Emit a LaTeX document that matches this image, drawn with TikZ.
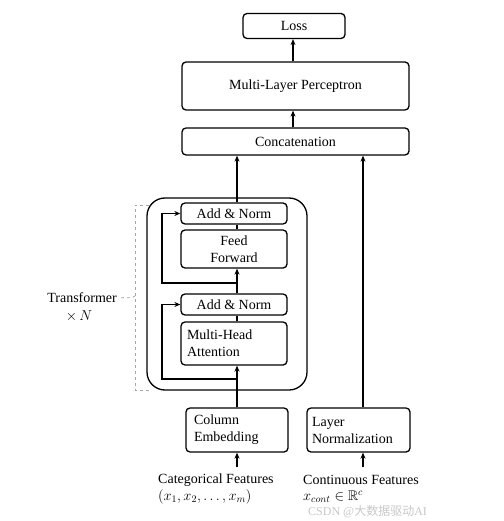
\documentclass[tikz,border=0pt]{standalone}
\usepackage{fontspec}
\usepackage{amsmath,amssymb}
\setmainfont{Liberation Serif}
\newfontfamily\cjkfont{Noto Sans CJK SC}
\usetikzlibrary{arrows.meta}
\begin{document}
\begin{tikzpicture}[x=1pt,y=-1pt,
  every node/.style={font=\fontsize{14}{16}\selectfont},
  blk/.style={draw, line width=1.3pt, rounded corners=4pt, inner sep=0pt, align=center},
  lblk/.style={blk, align=left},
  conn/.style={line width=1.3pt},
  arr/.style={conn, -{Stealth[length=6pt,width=5pt]}},
  brk/.style={draw=gray!70, dashed, line width=0.8pt}]
\useasboundingbox (0,0) rectangle (503,521);
% top
\node[blk, minimum width=102pt, minimum height=25pt] (loss) at (294,26) {Loss};
\node[blk, minimum width=227pt, minimum height=48pt] (mlp) at (295.5,86) {Multi-Layer Perceptron};
\node[blk, minimum width=227pt, minimum height=27pt] (cat) at (295.5,141.5) {Concatenation};
% transformer
\node[draw, line width=1.3pt, rounded corners=18pt, minimum width=160pt, minimum height=192pt] (outer) at (227,294) {};
\node[blk, minimum width=106pt, minimum height=21pt] (an2) at (234,213.5) {Add \& Norm};
\node[blk, minimum width=106pt, minimum height=38pt, font=\fontsize{14}{17}\selectfont] (ff) at (234,249) {Feed\\Forward};
\node[blk, minimum width=106pt, minimum height=21pt] (an1) at (234,304.5) {Add \& Norm};
\node[lblk, minimum height=43pt, text width=94pt, inner xsep=6pt, font=\fontsize{14}{17}\selectfont] (mha) at (234,343.5) {Multi-Head\\Attention};
% inputs
\node[lblk, minimum height=44pt, text width=86pt, inner xsep=8pt, font=\fontsize{14}{17}\selectfont] (ce) at (237,430) {Column\\Embedding};
\node[lblk, minimum height=44pt, text width=93pt, inner xsep=5pt, font=\fontsize{14}{17}\selectfont] (ln) at (358.5,430) {Layer\\Normalization};
\node[anchor=west, inner sep=0pt] (catf) at (158,480) {Categorical Features};
\node[anchor=west, inner sep=0pt] (catx) at (158,497) {$(x_1, x_2, \dots, x_m)$};
\node[anchor=west, inner sep=0pt] (conf) at (303,480) {Continuous Features};
\node[anchor=west, inner sep=0pt] (conx) at (303,497) {$x_{cont} \in \mathbb{R}^c$};
% coordinates
\coordinate (cin) at (237,467);
\coordinate (lin) at (363,467);
\coordinate (mid) at (293,0);
\coordinate (r1) at (237,379);
\coordinate (r2) at (237,283);
% connectors
\draw[arr] (mid |- mlp.north) -- (mid |- loss.south);
\draw[arr] (mid |- cat.north) -- (mid |- mlp.south);
\draw[arr] (cin) -- (cin |- ce.south);
\draw[arr] (lin) -- (lin |- ln.south);
\draw[arr] (cin |- ce.north) -- (cin |- mha.south);
\draw[conn] (cin |- mha.north) -- (cin |- an1.south);
\draw[arr] (cin |- an1.north) -- (cin |- ff.south);
\draw[conn] (cin |- ff.north) -- (cin |- an2.south);
\draw[arr] (cin |- an2.north) -- (cin |- cat.south);
\draw[arr] (lin |- ln.north) -- (lin |- cat.south);
\draw[arr] (r1) -- (162,379) |- (an1.west);
\draw[arr] (r2) -- (162,283) |- (an2.west);
% bracket
\draw[brk] (149,205) -- (135,205) -- (135,390) -- (149,390);
\draw[brk] (121,298) .. controls (126,296) and (129,300) .. (135,296);
\node[anchor=east, inner sep=0pt] (tf) at (117,298) {Transformer};
\node[inner sep=0pt] (tn) at (79,316) {$\times\, N$};
% watermark
\node[anchor=west, inner sep=0pt, text=gray!55, opacity=0.8, font=\fontsize{12}{14}\selectfont] (wm) at (308,512) {CSDN @\cjkfont 大数据驱动\rmfamily AI};
\end{tikzpicture}
\end{document}
